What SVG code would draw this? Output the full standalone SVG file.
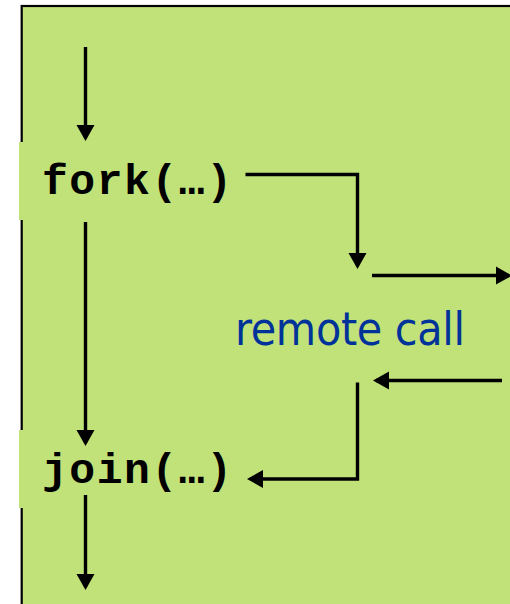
<svg xmlns="http://www.w3.org/2000/svg" width="510" height="604" viewBox="0 0 510 604">
  <style>
    .bg { fill: #C0E278; }
    .frame { fill: #C0E278; stroke: #000; stroke-width: 2.2; }
    .code { font-family: "Liberation Mono", "Courier New", monospace; font-weight: bold; font-size: 43px; fill: #000; }
    .lbl { font-family: "DejaVu Sans Condensed", "DejaVu Sans", sans-serif; font-size: 46px; fill: #003399; }
    .conn { fill: none; stroke: #000; stroke-width: 3.4; }
  </style>
  <defs>
    <marker id="ah" markerUnits="userSpaceOnUse" markerWidth="20" markerHeight="20" refX="13" refY="9" orient="auto" overflow="visible">
      <path d="M0,0 L16,9 L0,18 Z" fill="#000"/>
    </marker>
  </defs>
  <rect width="510" height="604" fill="#fff"/>
  <rect class="frame" x="21.7" y="6" width="520" height="620"/>

  <g id="fork">
    <rect class="bg" x="19" y="142" width="222" height="78"/>
    <text class="code" x="42" y="194" textLength="190" lengthAdjust="spacing">fork(…)</text>
  </g>
  <g id="join">
    <rect class="bg" x="19" y="430" width="222" height="78"/>
    <text class="code" x="42" y="483" textLength="190" lengthAdjust="spacing">join(…)</text>
  </g>
  <g id="remote">
    <text class="lbl" x="235" y="345" textLength="230" lengthAdjust="spacing">remote call</text>
  </g>

  <g id="connectors">
    <path class="conn" marker-end="url(#ah)" d="M85.5,47 V138"/>
    <path class="conn" marker-end="url(#ah)" d="M85.5,222 V443"/>
    <path class="conn" marker-end="url(#ah)" d="M85.5,495 V587"/>
    <path class="conn" marker-end="url(#ah)" d="M245.5,174.5 H357.5 V266"/>
    <path class="conn" marker-end="url(#ah)" d="M372,275.5 H509"/>
    <path class="conn" marker-end="url(#ah)" d="M502,380.5 H376"/>
    <path class="conn" marker-end="url(#ah)" d="M357.5,382.5 V479 H250"/>
  </g>
</svg>
